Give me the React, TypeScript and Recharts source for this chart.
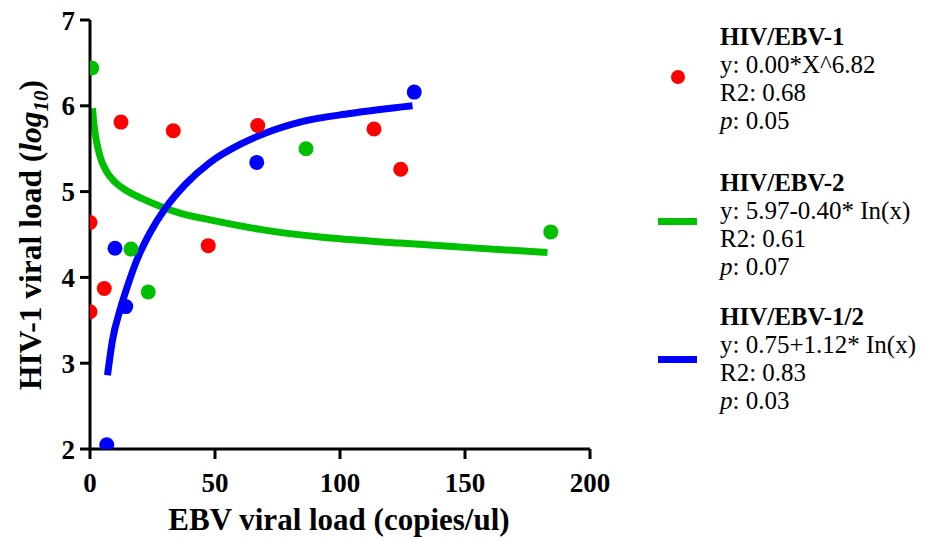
import {
  ComposedChart,
  Scatter,
  Line,
  XAxis,
  YAxis,
  Label,
} from "recharts";

const RED = "#FF0000";
const GREEN = "#00C000";
const BLUE = "#0000FF";

// HIV/EBV-1 points
const ebv1X = [0, 0, 5.7, 12.4, 33.3, 47.3, 67.1, 113.6, 124.3];
const hiv1Y = [4.64, 3.6, 3.87, 5.81, 5.71, 4.37, 5.77, 5.73, 5.26];

// HIV/EBV-2 points
const ebv2X = [0.7, 16.4, 23.3, 86.4, 184.3];
const hiv2Y = [6.44, 4.33, 3.83, 5.5, 4.53];

// HIV/EBV-1/2 points
const ebv12X = [6.7, 10, 14.3, 66.7, 129.7];
const hiv12Y = [2.05, 4.34, 3.66, 5.34, 6.16];

// fitted curves
const fit2X = [1, 1.5, 2.7, 4, 6.7, 10, 14.7, 20, 28, 36, 48, 68, 92, 124, 150, 183];
const fit2Y = [5.97, 5.8, 5.57, 5.41, 5.23, 5.11, 5.01, 4.93, 4.83, 4.75, 4.67, 4.56, 4.47, 4.4, 4.35, 4.29];

const fit12X = [7, 9, 12, 15, 19, 24, 30, 38, 48, 60, 70, 84, 104, 129];
const fit12Y = [2.86, 3.27, 3.62, 3.9, 4.22, 4.52, 4.8, 5.08, 5.34, 5.55, 5.68, 5.81, 5.91, 6.0];

const xTicks = [0, 50, 100, 150, 200];
const yTicks = [2, 3, 4, 5, 6, 7];

const zip = (xs: number[], ys: number[]) => xs.map((x, i) => ({ x, y: ys[i] }));

const dot = (color: string) => (p: any) => (
  <circle cx={p.cx} cy={p.cy} r={7.5} fill={color} />
);

const legend = [
  { title: "HIV/EBV-1", eq: "y: 0.00*X^6.82", r2: "R2: 0.68", p: ": 0.05", color: RED, kind: "dot", top: 23 },
  { title: "HIV/EBV-2", eq: "y: 5.97-0.40* In(x)", r2: "R2: 0.61", p: ": 0.07", color: GREEN, kind: "line", top: 169 },
  { title: "HIV/EBV-1/2", eq: "y: 0.75+1.12* In(x)", r2: "R2: 0.83", p: ": 0.03", color: BLUE, kind: "line", top: 303 },
];

const font = "'Liberation Serif', 'Times New Roman', serif";
const tickStyle = { fontSize: 27, fontWeight: "bold", fill: "#000", fontFamily: font };

export default function App() {
  return (
    <div style={{ position: "absolute", left: 0, top: 0, width: 935, height: 540, background: "#fff", fontFamily: font }}>
      <ComposedChart
        width={935}
        height={540}
        margin={{ top: 20, right: 345, bottom: 31, left: 60 }}
      >
        <XAxis
          type="number"
          dataKey="x"
          domain={[0, 200]}
          ticks={xTicks}
          allowDataOverflow
          axisLine={{ stroke: "#000", strokeWidth: 3 }}
          tickLine={{ stroke: "#000", strokeWidth: 3 }}
          tickSize={10}
          tickMargin={14}
          tick={tickStyle}
          height={60}
        >
          <Label
            content={() => (
              <text x={339} y={530} textAnchor="middle" fontSize={31} fontWeight="bold" fontFamily={font} fill="#000">
                EBV viral load (copies/ul)
              </text>
            )}
          />
        </XAxis>
        <YAxis
          type="number"
          dataKey="y"
          domain={[2, 7]}
          ticks={yTicks}
          allowDataOverflow
          axisLine={{ stroke: "#000", strokeWidth: 3 }}
          tickLine={{ stroke: "#000", strokeWidth: 3 }}
          tickSize={10}
          tickMargin={5}
          tick={tickStyle}
          width={30}
        >
          <Label
            content={() => (
              <text
                x={41}
                y={235}
                transform="rotate(-90, 41, 235)"
                textAnchor="middle"
                fontSize={31.5}
                fontWeight="bold"
                fontFamily={font}
                fill="#000"
              >
                HIV-1 viral load (
                <tspan fontStyle="italic">log</tspan>
                <tspan fontStyle="italic" fontSize={21} dy={7}>10</tspan>
                <tspan dy={-7}>)</tspan>
              </text>
            )}
          />
        </YAxis>
        <Scatter data={zip(ebv1X, hiv1Y)} shape={dot(RED)} isAnimationActive={false} />
        <Scatter data={zip(ebv2X, hiv2Y)} shape={dot(GREEN)} isAnimationActive={false} />
        <Scatter data={zip(ebv12X, hiv12Y)} shape={dot(BLUE)} isAnimationActive={false} />
        <Line
          data={zip(fit2X, fit2Y)}
          dataKey="y"
          type="monotone"
          stroke={GREEN}
          strokeWidth={7}
          dot={false}
          activeDot={false}
          isAnimationActive={false}
        />
        <Line
          data={zip(fit12X, fit12Y)}
          dataKey="y"
          type="monotone"
          stroke={BLUE}
          strokeWidth={7}
          dot={false}
          activeDot={false}
          isAnimationActive={false}
        />
      </ComposedChart>
      {legend.map((g) => (
        <div key={g.title}>
          <svg style={{ position: "absolute", left: 650, top: g.top + 30, width: 60, height: 50 }}>
            {g.kind === "dot" ? (
              <circle cx={28} cy={24} r={7} fill={g.color} />
            ) : (
              <rect x={8} y={g.title === "HIV/EBV-2" ? 19 : 23} width={39} height={7} fill={g.color} />
            )}
          </svg>
          <div
            style={{
              position: "absolute",
              left: 720,
              top: g.top,
              fontSize: 25,
              lineHeight: "28px",
              color: "#000",
              whiteSpace: "nowrap",
            }}
          >
            <div style={{ fontWeight: "bold" }}>{g.title}</div>
            <div>{g.eq}</div>
            <div>{g.r2}</div>
            <div>
              <i>p</i>
              {g.p}
            </div>
          </div>
        </div>
      ))}
    </div>
  );
}
